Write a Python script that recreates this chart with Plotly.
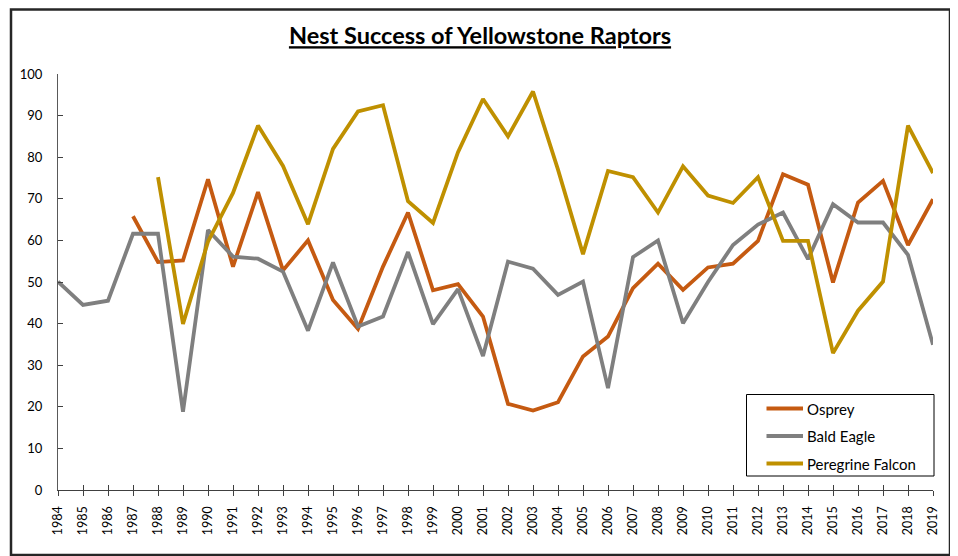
import plotly.graph_objects as go

# ---------------------------------------------------------------
# Data
# ---------------------------------------------------------------
years = list(range(1984, 2020))

osprey = [
    None, None, None, 65.8, 54.8, 55.2, 74.7, 53.7, 71.6, 52.8,
    60.0, 45.7, 38.7, 53.7, 66.7, 48.0, 49.5, 41.7, 20.7, 19.1,
    21.1, 32.1, 36.9, 48.5, 54.4, 48.1, 53.5, 54.4, 59.9, 75.9,
    73.4, 49.9, 69.1, 74.3, 58.9, 69.9,
]

bald_eagle = [
    50.1, 44.5, 45.5, 61.6, 61.6, 18.8, 62.5, 56.1, 55.6, 52.5,
    38.3, 54.7, 39.3, 41.7, 57.2, 39.9, 48.3, 32.2, 54.9, 53.2,
    46.9, 50.1, 24.5, 56.0, 60.0, 40.1, 50.0, 58.9, 63.8, 66.7,
    55.5, 68.7, 64.3, 64.3, 56.5, 34.9,
]

peregrine = [
    None, None, None, None, 75.2, 39.9, 59.7, 71.4, 87.6, 77.9,
    63.9, 82.0, 91.0, 92.5, 69.4, 64.2, 81.2, 94.0, 85.0, 95.8,
    77.0, 56.7, 76.7, 75.2, 66.7, 77.8, 70.8, 69.0, 75.2, 59.9,
    59.9, 32.9, 43.1, 50.1, 87.6, 76.2,
]

series_names = ["Osprey", "Bald Eagle", "Peregrine Falcon"]
series_values = [osprey, bald_eagle, peregrine]
series_colors = ["#C55A11", "#7F7F7F", "#BF9000"]

FONT = "Lato, 'Open Sans', sans-serif"
AXIS_COLOR = "#404040"

# figure size / plot area in px (page body adds an 8px offset)
W, H = 950, 548
L, R, T, B = 50, 25, 66, 66
PW, PH = W - L - R, H - T - B


def px_x(x):
    """figure pixel -> paper x"""
    return (x - L) / PW


def px_y(y):
    """figure pixel (from top) -> paper y"""
    return (H - B - y) / PH


# ---------------------------------------------------------------
# Figure
# ---------------------------------------------------------------
fig = go.Figure()

for name, vals, color in zip(series_names, series_values, series_colors):
    fig.add_trace(go.Scatter(
        x=years, y=vals,
        mode="lines",
        name=name,
        line=dict(color=color, width=3.8),
        connectgaps=False,
        showlegend=False,
    ))

# helper trace so the overlaid axis draws the upper half of the crossing ticks
fig.add_trace(go.Scatter(
    x=years, y=[None] * len(years), xaxis="x2", showlegend=False,
    hoverinfo="skip",
))

fig.update_layout(
    width=W,
    height=H,
    margin=dict(l=L, r=R, t=T, b=B),
    paper_bgcolor="white",
    plot_bgcolor="white",
    font=dict(family=FONT, color="#000000"),
    showlegend=False,
    title=dict(
        text="<b><u>Nest Success of Yellowstone Raptors</u></b>",
        x=472 / W, xref="container", xanchor="center",
        y=1 - 28 / H, yref="container", yanchor="middle",
        font=dict(size=23.5, family=FONT, color="#000000"),
    ),
    xaxis=dict(
        range=[1984, 2019],
        tickmode="array",
        tickvals=years,
        ticktext=[str(y) for y in years],
        tickangle=-90,
        ticks="outside",
        ticklen=5,
        tickcolor=AXIS_COLOR,
        showline=True,
        linecolor=AXIS_COLOR,
        linewidth=1.3,
        showgrid=False,
        zeroline=False,
        tickfont=dict(size=12.5, family=FONT, color="#000000"),
        ticklabelstandoff=5,
    ),
    xaxis2=dict(
        overlaying="x",
        anchor="y",
        side="bottom",
        range=[1984, 2019],
        tickmode="array",
        tickvals=years,
        ticks="inside",
        ticklen=5,
        tickcolor=AXIS_COLOR,
        showticklabels=False,
        showgrid=False,
        zeroline=False,
        showline=False,
    ),
    yaxis=dict(
        range=[0, 100],
        dtick=10,
        ticks="inside",
        ticklen=5,
        tickcolor=AXIS_COLOR,
        showline=True,
        linecolor="#595959",
        linewidth=1.3,
        showgrid=False,
        zeroline=False,
        tickfont=dict(size=13, family=FONT, color="#000000"),
        ticklabelstandoff=12,
    ),
)

# ---------------------------------------------------------------
# Legend box (drawn by hand to match the boxed Excel-style legend)
# ---------------------------------------------------------------
LEG_X0, LEG_X1 = 738.5, 926
LEG_Y0, LEG_Y1 = 386.5, 468
fig.add_shape(
    type="rect", xref="paper", yref="paper",
    x0=px_x(LEG_X0), x1=px_x(LEG_X1), y0=px_y(LEG_Y1), y1=px_y(LEG_Y0),
    line=dict(color="#000000", width=1), fillcolor="white", layer="above",
)
for i, (name, color) in enumerate(zip(series_names, series_colors)):
    row_y = 400.5 + i * 27.5
    fig.add_shape(
        type="line", xref="paper", yref="paper",
        x0=px_x(758.5), x1=px_x(795), y0=px_y(row_y), y1=px_y(row_y),
        line=dict(color=color, width=4), layer="above",
    )
    fig.add_annotation(
        xref="paper", yref="paper",
        x=px_x(797), y=px_y(row_y),
        xanchor="left", yanchor="middle",
        text=name, showarrow=False,
        font=dict(size=15, family=FONT, color="#000000"),
    )

# outer chart frame
fig.add_shape(
    type="rect", xref="paper", yref="paper",
    x0=px_x(3), x1=px_x(942), y0=px_y(547), y1=px_y(1.5),
    line=dict(color="#262626", width=2.5),
    layer="above",
)

fig.write_html("out.html")
